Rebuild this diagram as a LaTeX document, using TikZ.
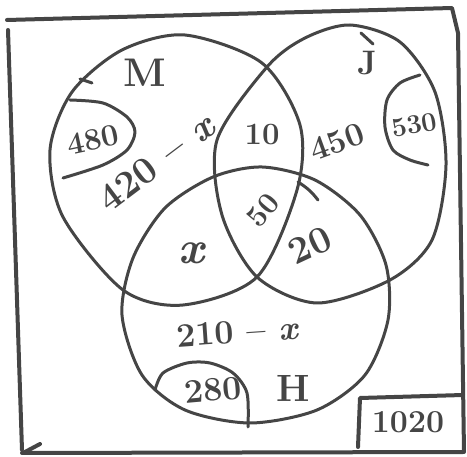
\documentclass[tikz,border=0pt]{standalone}
\usepackage{fontspec}
\usepackage{tikz}
\usetikzlibrary{positioning}
\usepackage{xcolor}
\definecolor{ink}{HTML}{454545}

\begin{document}
\begin{tikzpicture}[x=1pt, y=-1pt,
    pen/.style={draw=ink, line width=3pt, line cap=round, line join=round},
    frm/.style={draw=ink, line width=4pt, line cap=round, line join=round},
    num/.style={text=ink, inner sep=0pt, font=\fontsize{#1}{#1}\selectfont\bfseries},
    num/.default=32]
  \useasboundingbox (0,0) rectangle (467,457);

  \draw[frm] (7,20) -- (452,8) -- (458,33) -- (464,452) -- (22,453);
  \draw[frm] (8,30) -- (22,450);
  \draw[frm] (25,452) -- (40,444);
  \draw[frm] (358,447) -- (360,398) -- (463,395);

  \draw[pen] plot[smooth cycle] coordinates {(185,35) (262,63) (300,125) (297,190) (257,277) (183,305) (123,290) (63,217) (50,150) (72,92) (122,50)};
  \draw[pen] plot[smooth cycle] coordinates {(267,67) (305,38) (350,25) (400,42) (435,92) (446,165) (432,240) (390,280) (317,303) (257,277) (222,215) (217,140)};
  \draw[pen] plot[smooth cycle] coordinates {(213,177) (262,167) (315,180) (360,215) (386,265) (388,320) (365,375) (317,410) (250,423) (185,410) (142,375) (122,315) (133,258) (165,208)};

  \draw[pen] plot[smooth] coordinates {(70,100) (103,103) (127,117) (135,132) (127,150) (103,165) (63,178)};
  \draw[pen] plot[smooth] coordinates {(420,75) (400,83) (387,100) (385,127) (393,150) (410,160) (428,165)};
  \draw[pen] plot[smooth] coordinates {(155,390) (163,373) (187,363) (210,363) (233,373) (247,393) (248,427)};

  \draw[pen] (80,79) -- (92,83);
  \draw[pen] (361,33) -- (373,44);
  \draw[pen] (298,182) to[bend left=10] (318,200);

  \node[num=40] (lblM) at (145,73) {M};
  \node[num=34] (lblJ) at (367,63) {J};
  \node[num=38] (lblH) at (293,388) {H};
  \node[num=31, rotate=12] (nM) at (93,140) {480};
  \node[num=38, rotate=37] (nMx) at (157,162) {420 – \textit{x}};
  \node[num=31] (nMJ) at (262,135) {10};
  \node[num=33, rotate=20] (nJ) at (337,142) {450};
  \node[num=27, rotate=10] (nJo) at (414,125) {530};
  \node[num=30, rotate=50] (nMJH) at (263,210) {50};
  \node[num=46] (nMH) at (192,253) {\textit{x}};
  \node[num=38, rotate=25] (nJH) at (310,245) {20};
  \node[num=34, rotate=4] (nHx) at (238,332) {210 – \textit{x}};
  \node[num=34, rotate=5] (nH) at (213,390) {280};
  \node[num=32] (nOut) at (408,422) {1020};
\end{tikzpicture}
\end{document}
